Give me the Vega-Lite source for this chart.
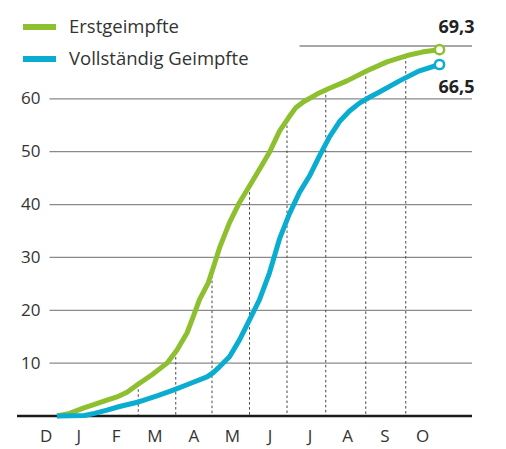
{
  "$schema": "https://vega.github.io/schema/vega-lite/v6.json",
  "width": 455,
  "height": 370,
  "autosize": {"type": "none"},
  "padding": {"left": 17, "top": 46, "right": 34, "bottom": 33},
  "background": "white",
  "config": {
    "view": {"stroke": null},
    "font": "Open Sans",
    "axis": {"labelFont": "Open Sans", "labelColor": "#333333", "labelFontSize": 17, "title": null},
    "legend": {"labelFont": "Open Sans"}
  },
  "datasets": {
    "series": [
      {"date": "2020-12-26", "value": 0, "series": "Erstgeimpfte"},
      {"date": "2021-01-05", "value": 0.5, "series": "Erstgeimpfte"},
      {"date": "2021-01-16", "value": 1.5, "series": "Erstgeimpfte"},
      {"date": "2021-01-25", "value": 2.2, "series": "Erstgeimpfte"},
      {"date": "2021-02-04", "value": 3.0, "series": "Erstgeimpfte"},
      {"date": "2021-02-12", "value": 3.6, "series": "Erstgeimpfte"},
      {"date": "2021-02-20", "value": 4.5, "series": "Erstgeimpfte"},
      {"date": "2021-03-02", "value": 6.2, "series": "Erstgeimpfte"},
      {"date": "2021-03-12", "value": 7.8, "series": "Erstgeimpfte"},
      {"date": "2021-03-24", "value": 10.0, "series": "Erstgeimpfte"},
      {"date": "2021-04-01", "value": 12.5, "series": "Erstgeimpfte"},
      {"date": "2021-04-09", "value": 15.7, "series": "Erstgeimpfte"},
      {"date": "2021-04-14", "value": 18.8, "series": "Erstgeimpfte"},
      {"date": "2021-04-19", "value": 22.0, "series": "Erstgeimpfte"},
      {"date": "2021-04-26", "value": 25.2, "series": "Erstgeimpfte"},
      {"date": "2021-05-01", "value": 28.8, "series": "Erstgeimpfte"},
      {"date": "2021-05-05", "value": 31.8, "series": "Erstgeimpfte"},
      {"date": "2021-05-13", "value": 36.6, "series": "Erstgeimpfte"},
      {"date": "2021-05-21", "value": 40.4, "series": "Erstgeimpfte"},
      {"date": "2021-05-29", "value": 43.5, "series": "Erstgeimpfte"},
      {"date": "2021-06-06", "value": 46.7, "series": "Erstgeimpfte"},
      {"date": "2021-06-14", "value": 49.9, "series": "Erstgeimpfte"},
      {"date": "2021-06-22", "value": 53.9, "series": "Erstgeimpfte"},
      {"date": "2021-06-30", "value": 56.7, "series": "Erstgeimpfte"},
      {"date": "2021-07-05", "value": 58.3, "series": "Erstgeimpfte"},
      {"date": "2021-07-11", "value": 59.4, "series": "Erstgeimpfte"},
      {"date": "2021-07-22", "value": 60.9, "series": "Erstgeimpfte"},
      {"date": "2021-08-01", "value": 62.0, "series": "Erstgeimpfte"},
      {"date": "2021-08-15", "value": 63.4, "series": "Erstgeimpfte"},
      {"date": "2021-08-31", "value": 65.3, "series": "Erstgeimpfte"},
      {"date": "2021-09-16", "value": 67.0, "series": "Erstgeimpfte"},
      {"date": "2021-10-02", "value": 68.2, "series": "Erstgeimpfte"},
      {"date": "2021-10-15", "value": 68.9, "series": "Erstgeimpfte"},
      {"date": "2021-10-28", "value": 69.3, "series": "Erstgeimpfte"},
      {"date": "2020-12-26", "value": 0, "series": "Vollständig Geimpfte"},
      {"date": "2021-01-17", "value": 0.1, "series": "Vollständig Geimpfte"},
      {"date": "2021-01-25", "value": 0.5, "series": "Vollständig Geimpfte"},
      {"date": "2021-02-04", "value": 1.1, "series": "Vollständig Geimpfte"},
      {"date": "2021-02-14", "value": 1.8, "series": "Vollständig Geimpfte"},
      {"date": "2021-03-02", "value": 2.7, "series": "Vollständig Geimpfte"},
      {"date": "2021-03-16", "value": 3.8, "series": "Vollständig Geimpfte"},
      {"date": "2021-03-29", "value": 4.9, "series": "Vollständig Geimpfte"},
      {"date": "2021-04-11", "value": 6.1, "series": "Vollständig Geimpfte"},
      {"date": "2021-04-25", "value": 7.4, "series": "Vollständig Geimpfte"},
      {"date": "2021-04-30", "value": 8.2, "series": "Vollständig Geimpfte"},
      {"date": "2021-05-05", "value": 9.3, "series": "Vollständig Geimpfte"},
      {"date": "2021-05-13", "value": 11.2, "series": "Vollständig Geimpfte"},
      {"date": "2021-05-21", "value": 14.4, "series": "Vollständig Geimpfte"},
      {"date": "2021-05-29", "value": 18.2, "series": "Vollständig Geimpfte"},
      {"date": "2021-06-06", "value": 22.0, "series": "Vollständig Geimpfte"},
      {"date": "2021-06-14", "value": 27.1, "series": "Vollständig Geimpfte"},
      {"date": "2021-06-22", "value": 33.5, "series": "Vollständig Geimpfte"},
      {"date": "2021-06-30", "value": 38.3, "series": "Vollständig Geimpfte"},
      {"date": "2021-07-08", "value": 42.3, "series": "Vollständig Geimpfte"},
      {"date": "2021-07-16", "value": 45.4, "series": "Vollständig Geimpfte"},
      {"date": "2021-07-24", "value": 49.2, "series": "Vollständig Geimpfte"},
      {"date": "2021-08-01", "value": 52.8, "series": "Vollständig Geimpfte"},
      {"date": "2021-08-09", "value": 55.7, "series": "Vollständig Geimpfte"},
      {"date": "2021-08-17", "value": 57.7, "series": "Vollständig Geimpfte"},
      {"date": "2021-08-25", "value": 59.2, "series": "Vollständig Geimpfte"},
      {"date": "2021-09-02", "value": 60.3, "series": "Vollständig Geimpfte"},
      {"date": "2021-09-10", "value": 61.3, "series": "Vollständig Geimpfte"},
      {"date": "2021-09-26", "value": 63.4, "series": "Vollständig Geimpfte"},
      {"date": "2021-10-12", "value": 65.3, "series": "Vollständig Geimpfte"},
      {"date": "2021-10-28", "value": 66.5, "series": "Vollständig Geimpfte"}
    ],
    "months": [
      {"date": "2021-03-01", "value": 6.0, "zero": 0},
      {"date": "2021-03-31", "value": 12.1, "zero": 0},
      {"date": "2021-04-29", "value": 27.5, "zero": 0},
      {"date": "2021-05-29", "value": 43.3, "zero": 0},
      {"date": "2021-06-28", "value": 55.9, "zero": 0},
      {"date": "2021-07-29", "value": 61.7, "zero": 0},
      {"date": "2021-08-30", "value": 65.2, "zero": 0},
      {"date": "2021-10-01", "value": 68.1, "zero": 0}
    ],
    "grid": [
      {"start": "2020-12-20", "end": "2021-11-23", "value": 10},
      {"start": "2020-12-20", "end": "2021-11-23", "value": 20},
      {"start": "2020-12-20", "end": "2021-11-23", "value": 30},
      {"start": "2020-12-20", "end": "2021-11-23", "value": 40},
      {"start": "2020-12-20", "end": "2021-11-23", "value": 50},
      {"start": "2020-12-20", "end": "2021-11-23", "value": 60},
      {"start": "2021-07-08", "end": "2021-11-23", "value": 70}
    ],
    "base": [
      {"start": "2020-11-24", "end": "2021-11-23", "value": 0}
    ],
    "ends": [
      {"date": "2021-10-28", "value": 69.3, "series": "Erstgeimpfte", "label": "69,3"},
      {"date": "2021-10-28", "value": 66.5, "series": "Vollständig Geimpfte", "label": "66,5"}
    ]
  },
  "layer": [
    {
      "data": {"name": "grid"},
      "mark": {"type": "rule", "color": "#8a8a8a", "strokeWidth": 1.3},
      "encoding": {
        "x": {"field": "start", "type": "temporal"},
        "x2": {"field": "end"},
        "y": {"field": "value", "type": "quantitative"}
      }
    },
    {
      "data": {"name": "months"},
      "mark": {"type": "rule", "color": "#444444", "strokeWidth": 1, "strokeDash": [2.5, 2.5]},
      "encoding": {
        "x": {"field": "date", "type": "temporal"},
        "y": {"field": "value", "type": "quantitative"},
        "y2": {"field": "zero"}
      }
    },
    {
      "data": {"name": "base"},
      "mark": {"type": "rule", "color": "#1a1a1a", "strokeWidth": 2.6},
      "encoding": {
        "x": {"field": "start", "type": "temporal"},
        "x2": {"field": "end"},
        "y": {"field": "value", "type": "quantitative"}
      }
    },
    {
      "data": {"name": "series"},
      "mark": {"type": "line", "strokeWidth": 5, "strokeJoin": "round", "strokeCap": "butt"},
      "encoding": {
        "x": {
          "field": "date", "type": "temporal",
          "scale": {"domain": ["2020-11-24", "2021-11-23"]},
          "axis": {
            "domain": false, "ticks": false, "grid": false,
            "labelPadding": 12, "labelBaseline": "top",
            "values": ["2020-12-17", "2021-01-12", "2021-02-11", "2021-03-14", "2021-04-14", "2021-05-15", "2021-06-14", "2021-07-16", "2021-08-15", "2021-09-14", "2021-10-14"],
            "labelExpr": "['J','F','M','A','M','J','J','A','S','O','N','D'][utcmonth(datum.value)]",
            "labelOverlap": false,
            "labelBound": false,
            "labelFlush": false
          }
        },
        "y": {
          "field": "value", "type": "quantitative",
          "scale": {"domain": [0, 70], "nice": false},
          "axis": {
            "domain": false, "ticks": false, "grid": false,
            "values": [10, 20, 30, 40, 50, 60],
            "offset": -23, "labelPadding": 0, "labelAlign": "right", "labelBaseline": "middle"
          }
        },
        "color": {
          "field": "series", "type": "nominal",
          "scale": {"domain": ["Erstgeimpfte", "Vollständig Geimpfte"], "range": ["#8dbf2e", "#0aadcf"]},
          "legend": {
            "title": null, "orient": "none", "legendX": 3, "legendY": -38.5,
            "symbolType": "stroke", "symbolSize": 1089, "symbolStrokeWidth": 6,
            "labelFontSize": 18.5, "labelColor": "#333333", "labelOffset": 10, "labelLimit": 0,
            "rowPadding": 0, "padding": 0
          }
        }
      }
    },
    {
      "data": {"name": "ends"},
      "mark": {"type": "point", "filled": false, "fill": "white", "fillOpacity": 1, "opacity": 1, "strokeWidth": 2.5, "size": 85},
      "encoding": {
        "x": {"field": "date", "type": "temporal"},
        "y": {"field": "value", "type": "quantitative"},
        "color": {"field": "series", "type": "nominal", "legend": null}
      }
    },
    {
      "data": {"name": "ends"},
      "transform": [{"filter": "datum.series == 'Erstgeimpfte'"}],
      "mark": {"type": "text", "align": "right", "baseline": "alphabetic", "dx": 35, "dy": -17, "fontSize": 18, "fontWeight": "bold", "color": "#222222"},
      "encoding": {
        "x": {"field": "date", "type": "temporal"},
        "y": {"field": "value", "type": "quantitative"},
        "text": {"field": "label"}
      }
    },
    {
      "data": {"name": "ends"},
      "transform": [{"filter": "datum.series == 'Vollständig Geimpfte'"}],
      "mark": {"type": "text", "align": "right", "baseline": "alphabetic", "dx": 35, "dy": 28.5, "fontSize": 18, "fontWeight": "bold", "color": "#222222"},
      "encoding": {
        "x": {"field": "date", "type": "temporal"},
        "y": {"field": "value", "type": "quantitative"},
        "text": {"field": "label"}
      }
    }
  ]
}
